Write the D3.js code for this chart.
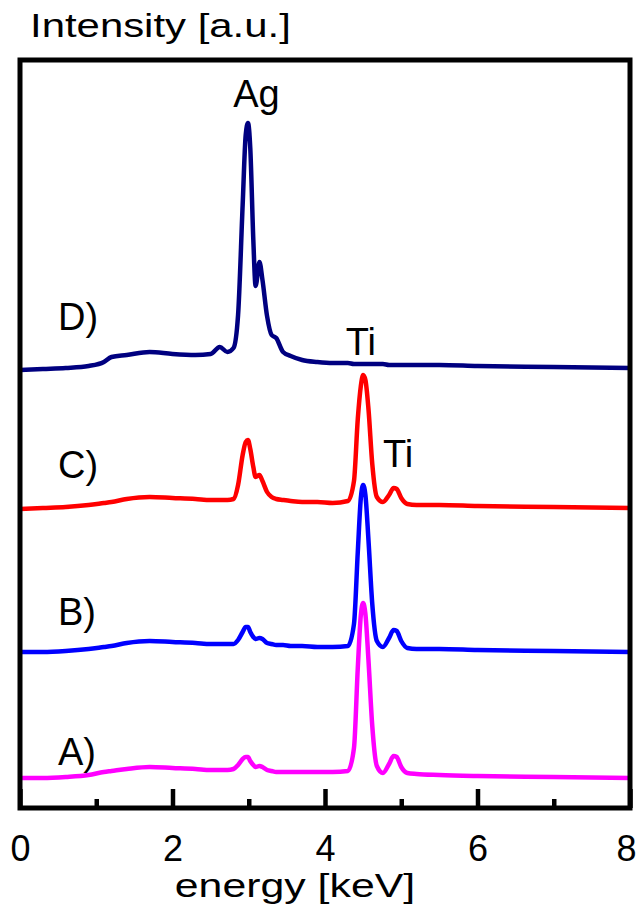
<!DOCTYPE html>
<html>
<head>
<meta charset="utf-8">
<script src="https://cdn.jsdelivr.net/npm/d3@7"></script>
<style>
  body { margin: 0; background: #fff; }
  text { font-family: "Liberation Sans", Arial, sans-serif; fill: #000; }
</style>
</head>
<body>
<svg id="chart" width="639" height="916"></svg>
<script>
// energy grid (keV) and intensities above each trace's own baseline
var energy = [0, 0.3, 0.6, 0.9, 1.1, 1.2, 1.4, 1.7, 2.0, 2.3, 2.5, 2.62, 2.72, 2.8, 2.86, 2.92, 2.96, 2.99, 3.02, 3.06,
              3.09, 3.14, 3.18, 3.24, 3.3, 3.36, 3.45, 3.55, 3.7, 3.9, 4.1, 4.3, 4.38, 4.43, 4.47, 4.5, 4.53, 4.57, 4.62, 4.68,
              4.76, 4.84, 4.9, 4.94, 5.0, 5.08, 5.2, 5.5, 6.0, 7.0, 8.0];

var intensityA = [0, 0, 1, 3, 6, 7, 9, 11, 10, 9, 8, 8, 8, 9, 13, 19, 21, 21, 17, 13,
                  11, 12, 11, 8, 7, 6, 6, 6, 6, 6, 6, 7, 30, 110, 163, 175, 164, 118, 52, 12,
                  5, 14, 22, 21, 11, 5, 4, 3, 2, 1, 0];
var intensityB = [0, 0, 1, 3, 5, 6, 9, 11, 10, 9, 8, 8, 8, 8, 12, 20, 25, 25, 20, 15,
                  13, 14, 13, 9, 8, 7, 7, 6, 6, 5, 5, 6, 28, 100, 154, 167, 157, 112, 48, 11,
                  5, 14, 22, 21, 11, 4, 3, 3, 2, 1, 0];
var intensityC = [0, 1, 2, 4, 6, 7, 10, 12, 11, 10, 9, 9, 9, 10, 24, 54, 67, 69, 60, 42,
                  32, 34, 28, 17, 12, 10, 9, 8, 7, 7, 6, 8, 28, 90, 123, 134, 129, 100, 45, 12,
                  7, 14, 21, 20, 11, 5, 4, 4, 3, 2, 1];
var intensityD = [0, 1, 2, 4, 8, 13, 15, 18, 16, 15, 16, 23, 18, 22, 55, 165, 235, 247, 222, 130,
                  84, 108, 90, 54, 35, 32, 18, 14, 10, 8, 7, 7, 6, 6, 6, 6, 6, 6, 6, 6,
                  6, 5, 5, 5, 5, 5, 5, 5, 4, 3, 2];

var seriesNames = ["A)", "B)", "C)", "D)"];
var offsets = [32, 158, 301, 440];
var colors = ["#ff00ff", "#0000ff", "#ff0000", "#000080"];

var majorTicks = [0, 2, 4, 6, 8];
var minorTicks = [1, 3, 5, 7];

var svg = d3.select("#chart"),
    plotLeft = 20, plotRight = 630, plotTop = 60, plotBottom = 808;

var x = d3.scaleLinear().domain([0, 8]).range([plotLeft, plotRight]);
var y = d3.scaleLinear().domain([0, 750]).range([810, 60]);

svg.append("clipPath").attr("id", "clip")
  .append("rect").attr("x", plotLeft).attr("y", plotTop)
  .attr("width", plotRight - plotLeft).attr("height", plotBottom - plotTop);

var line = d3.line()
  .x(function (d) { return x(d[0]); })
  .y(function (d) { return y(d[1]); })
  .curve(d3.curveMonotoneX);

var all = [intensityA, intensityB, intensityC, intensityD];

// draw D first so A ends up on top
for (var k = 3; k >= 0; k--) {
  var pts = energy.map(function (e, i) { return [e, all[k][i] + offsets[k]]; });
  svg.append("path")
    .attr("clip-path", "url(#clip)")
    .attr("d", line(pts))
    .attr("fill", "none")
    .attr("stroke", colors[k])
    .attr("stroke-width", 4.5)
    .attr("stroke-linejoin", "round");
}

// ticks
var gx = svg.append("g").attr("transform", "translate(0," + plotBottom + ")");
gx.call(d3.axisBottom(x).tickValues(majorTicks).tickSizeInner(-19).tickSizeOuter(0).tickPadding(27)
  .tickFormat(d3.format("d")));
gx.select(".domain").remove();
gx.selectAll(".tick line").attr("stroke", "#000").attr("stroke-width", 4.5);
gx.selectAll(".tick text").style("font-size", "36px").style("font-family", "'Liberation Sans', Arial, sans-serif")
  .attr("dx", function (d) { return d === 8 ? -4 : 0; });

var gm = svg.append("g").attr("transform", "translate(0," + plotBottom + ")");
gm.call(d3.axisBottom(x).tickValues(minorTicks).tickSizeInner(-9).tickSizeOuter(0).tickFormat(""));
gm.select(".domain").remove();
gm.selectAll(".tick line").attr("stroke", "#000").attr("stroke-width", 4.5);

// frame
svg.append("rect")
  .attr("x", plotLeft).attr("y", plotTop)
  .attr("width", plotRight - plotLeft).attr("height", plotBottom - plotTop)
  .attr("fill", "none").attr("stroke", "#000").attr("stroke-width", 5);

// axis titles (widened like the original)
svg.append("text")
  .attr("transform", "translate(30,37) scale(1.27,1)")
  .style("font-size", "33px")
  .text("Intensity [a.u.]");

svg.append("text")
  .attr("transform", "translate(295,897) scale(1.26,1)")
  .attr("text-anchor", "middle")
  .style("font-size", "34px")
  .text("energy [keV]");

// trace labels
var labelY = [765, 625, 478, 330];
seriesNames.forEach(function (n, i) {
  svg.append("text").attr("x", 58).attr("y", labelY[i])
    .style("font-size", "38px").text(n);
});

// peak labels
var peaks = [
  { t: "Ag", e: 3.1, yy: 107 },
  { t: "Ti", e: 4.47, yy: 355 },
  { t: "Ti", e: 4.96, yy: 467 }
];
svg.selectAll(".peak").data(peaks).enter().append("text")
  .attr("class", "peak")
  .attr("x", function (d) { return x(d.e); })
  .attr("y", function (d) { return d.yy; })
  .attr("text-anchor", "middle")
  .style("font-size", "38px")
  .text(function (d) { return d.t; });
</script>
</body>
</html>
